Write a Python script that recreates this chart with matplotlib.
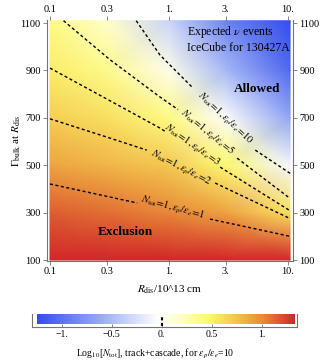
import numpy as np
import matplotlib
matplotlib.use('Agg')
import matplotlib.pyplot as plt
from matplotlib.colors import LinearSegmentedColormap
from matplotlib.ticker import NullLocator

plt.rcParams['font.family'] = ['Liberation Serif', 'DejaVu Serif']
plt.rcParams['mathtext.fontset'] = 'stix'

# log10 N_tot (eps_p/eps_e = 10) on a coarse grid
rdis = [0.1, 0.3, 1.0, 3.0, 10.4]
gamma = [100, 300, 500, 700, 900, 1110]
logN = [
    [1.40, 1.40, 1.38, 1.36, 1.35],
    [1.15, 1.10, 1.02, 0.90, 0.60],
    [0.89, 0.81, 0.72, 0.47, -0.10],
    [0.69, 0.60, 0.40, -0.03, -0.65],
    [0.53, 0.38, 0.05, -0.52, -1.05],
    [0.40, 0.16, -0.33, -0.88, -1.30],
]

# N_tot = 1 lines, each split in two where the label sits
eps10_r = [[0.53, 0.84, 1.59], [5.3, 10.4]]
eps10_g = [[1110, 965, 826], [564, 466]]
eps5_r = [[0.13, 0.32, 0.84, 1.19], [3.73, 10.4]]
eps5_g = [[1110, 945, 788, 735], [530, 360]]
eps3_r = [[0.1, 0.32, 0.84, 0.92], [2.69, 10.4]]
eps3_g = [[910, 772, 657, 644], [492, 308]]
eps2_r = [[0.1, 0.3, 0.65], [2.44, 10.4]]
eps2_g = [[696, 619, 564], [425, 275]]
eps1_r = [[0.1, 0.54], [2.21, 10.4]]
eps1_g = [[421, 341], [273, 200]]

ratios = ['10', '5', '3', '2', '1']
label_r = [2.95, 2.1, 1.55, 1.27, 1.08]
label_g = [697, 640, 585, 487, 322]
label_rot = [-43, -39, -35, -27, -15]

xticks = [0.1, 0.3, 1, 3, 10]
xticklabels = ['0.1', '0.3', '1.', '3.', '10.']
yticks = [100, 300, 500, 700, 900, 1100]
cb_ticks = [-1, -0.5, 0, 0.5, 1]
cb_ticklabels = ['\u22121.', '\u22120.5', '0.', '0.5', '1.']

vmin, vmax = -1.25, 1.33
stops = [(-1.25, (0.20, 0.30, 0.93)), (-0.6, (0.60, 0.68, 0.96)),
         (-0.05, (0.99, 0.99, 1.0)), (0.2, (1.0, 1.0, 0.75)),
         (0.48, (0.99, 0.97, 0.43)), (0.78, (0.95, 0.74, 0.29)),
         (1.02, (0.91, 0.54, 0.22)), (1.33, (0.82, 0.15, 0.16))]
cmap = LinearSegmentedColormap.from_list(
    'nu', [((v - vmin) / (vmax - vmin), c) for v, c in stops])

gray = '0.45'
fig = plt.figure(figsize=(3.2, 3.63), dpi=100)
ax = fig.add_axes([47/320, 1 - 261/363, 246/320, 241/363])
ax.set_xscale('log')

R, G = np.meshgrid(rdis, gamma)
mesh = ax.pcolormesh(R, G, np.array(logN), shading='gouraud',
                     cmap=cmap, vmin=vmin, vmax=vmax)

for rr, gg in [(eps10_r, eps10_g), (eps5_r, eps5_g), (eps3_r, eps3_g),
               (eps2_r, eps2_g), (eps1_r, eps1_g)]:
    for r, g in zip(rr, gg):
        ax.plot(r, g, color='k', lw=1.0, dashes=(2.2, 1.8))

for lab, x, y, rot in zip(ratios, label_r, label_g, label_rot):
    ax.text(x, y, r'$N_{\rm tot}\!=\!1,\varepsilon_p/\varepsilon_e\!=\!%s$' % lab,
            rotation=rot, rotation_mode='anchor', ha='center', va='center',
            fontsize=7.5)

ax.text(1.42, 1062, r'Expected $\nu$ events', fontsize=8.5, va='center')
ax.text(1.42, 995, 'IceCube for 130427A', fontsize=8.5, va='center')
ax.text(5.48, 822, 'Allowed', fontsize=9.5, weight='bold', ha='center', va='center')
ax.text(0.427, 218, 'Exclusion', fontsize=9.5, weight='bold', ha='center', va='center')

ax.set_xlim(0.0944, 11.0)
ax.set_ylim(96, 1113)
ax.set_xticks(xticks, xticklabels)
ax.xaxis.set_minor_locator(NullLocator())
ax.set_yticks(yticks)
ax.tick_params(direction='out', length=3, width=0.6, color=gray, labelsize=7.5,
               pad=1.5, top=True, right=True, labeltop=True, labelright=True)
for s in ax.spines.values():
    s.set_color(gray)
    s.set_linewidth(0.8)
ax.spines['top'].set_visible(False)

ax.set_xlabel(r'$R_{\rm dis}$/10^13 cm', fontsize=8)
ax.xaxis.set_label_coords(0.5, -0.095)
ax.set_ylabel(r'$\Gamma_{\rm bulk}$ at $R_{\rm dis}$', fontsize=8)
ax.yaxis.set_label_coords(-0.098, 0.5)

# colour bar
cax = fig.add_axes([36.7/320, 1 - 324/363, 258/320, 10/363])
cb = fig.colorbar(mesh, cax=cax, orientation='horizontal')
cb.set_ticks([])
cb.outline.set_visible(False)

frame = fig.add_axes([32/320, 1 - 327/363, 265/320, 13/363], facecolor='none')
frame.set_xlim(-1.297, 1.353)
frame.set_ylim(0, 1)
frame.set_xticks(cb_ticks, cb_ticklabels)
frame.set_yticks([])
frame.tick_params(direction='in', length=2, width=0.6, color=gray, labelsize=7, pad=2)
frame.spines['top'].set_visible(False)
for s in ['left', 'right', 'bottom']:
    frame.spines[s].set_color(gray)
    frame.spines[s].set_linewidth(0.8)
frame.plot([0, 0], [0.1, 0.85], color='k', lw=1.5, dashes=(1.5, 1.2))
frame.set_xlabel(r'Log$_{10}$[$N_{\rm tot}$], track+cascade, for $\epsilon_p/\epsilon_e$=10',
                 fontsize=7)
frame.xaxis.set_label_coords(0.464, -1.5)

fig.savefig('out.png', dpi=100)
